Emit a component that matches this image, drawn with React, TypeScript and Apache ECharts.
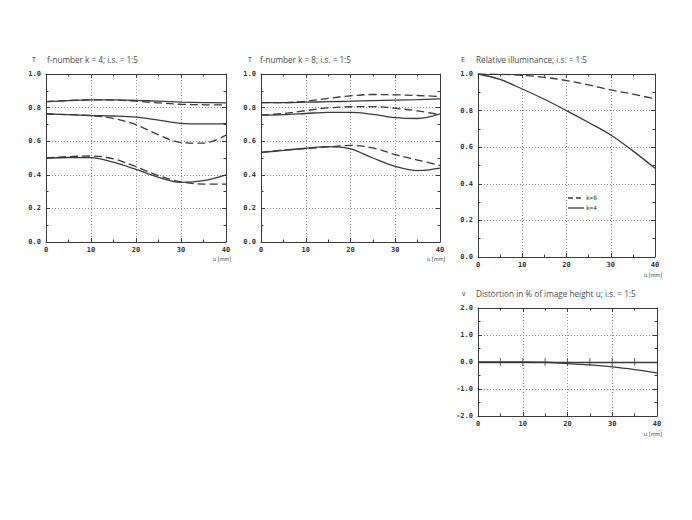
import React, { useEffect, useRef } from "react";
import * as echarts from "echarts";

// Image height u [mm]
const U = [0, 5, 10, 15, 20, 25, 30, 35, 40];

// Panel 1: f-number k = 4 (T)
const k4Solid1 = [0.835, 0.842, 0.846, 0.846, 0.843, 0.838, 0.833, 0.830, 0.828];
const k4Dash1 = [0.835, 0.842, 0.846, 0.845, 0.838, 0.828, 0.820, 0.817, 0.816];
const k4Solid2 = [0.762, 0.758, 0.753, 0.750, 0.743, 0.725, 0.706, 0.703, 0.705];
const k4Dash2 = [0.762, 0.758, 0.752, 0.735, 0.698, 0.638, 0.592, 0.588, 0.636];
const k4Solid3 = [0.500, 0.503, 0.502, 0.475, 0.432, 0.385, 0.355, 0.365, 0.400];
const k4Dash3 = [0.500, 0.508, 0.512, 0.495, 0.448, 0.395, 0.358, 0.345, 0.345];

// Panel 2: f-number k = 8 (T)
const k8Solid1 = [0.830, 0.830, 0.832, 0.835, 0.838, 0.842, 0.845, 0.848, 0.852];
const k8Dash1 = [0.830, 0.830, 0.838, 0.855, 0.870, 0.878, 0.876, 0.872, 0.866];
const k8Solid2 = [0.755, 0.758, 0.765, 0.772, 0.772, 0.760, 0.740, 0.735, 0.762];
const k8Dash2 = [0.755, 0.765, 0.782, 0.798, 0.805, 0.806, 0.796, 0.780, 0.758];
const k8Solid3 = [0.533, 0.545, 0.558, 0.568, 0.555, 0.500, 0.450, 0.425, 0.440];
const k8Dash3 = [0.533, 0.548, 0.556, 0.566, 0.575, 0.560, 0.520, 0.488, 0.455];

// Panel 3: relative illuminance E
const illumK8 = [1.0, 0.998, 0.993, 0.982, 0.964, 0.940, 0.913, 0.890, 0.864];
const illumK4 = [1.0, 0.970, 0.918, 0.862, 0.800, 0.735, 0.667, 0.580, 0.485];

// Panel 4: distortion v in %
const distortion = [0.0, 0.0, 0.0, -0.01, -0.06, -0.11, -0.18, -0.28, -0.40];
const zeroLineTicks = [5, 10, 15, 20, 25, 30, 35];

const titles = [
  { sym: "T", text: "f-number k = 4; i.s. = 1:5" },
  { sym: "T", text: "f-number k = 8; i.s. = 1:5" },
  { sym: "E", text: "Relative illuminance; i.s. = 1:5" },
  { sym: "v", text: "Distortion in % of image height u; i.s. = 1:5" },
];
const legendLabels = ["k=8", "k=4"];

const INK = "#3a3a3a";
const LABEL_FONT = "DejaVu Sans Mono";
const DASH = [8, 4];

const pts = (vals: number[]) => vals.map((v, i) => [U[i], v]);

export default function App() {
  const ref = useRef<HTMLDivElement>(null);

  useEffect(() => {
    if (!ref.current) return;
    const chart = echarts.init(ref.current, undefined, { renderer: "svg" });

    const grids = [
      { left: 46, top: 74, width: 180, height: 168 },
      { left: 261, top: 74, width: 179, height: 168 },
      { left: 478, top: 74, width: 177, height: 183 },
      { left: 478, top: 308, width: 179, height: 108 },
    ];
    const yRanges = [
      { min: 0, max: 1, interval: 0.2 },
      { min: 0, max: 1, interval: 0.2 },
      { min: 0, max: 1, interval: 0.2 },
      { min: -2, max: 2, interval: 1 },
    ];

    const labelStyle = {
      color: "#333",
      fontSize: 7,
      fontFamily: LABEL_FONT,
      fontWeight: "bold",
    };

    const xAxes: any[] = [];
    const yAxes: any[] = [];
    grids.forEach((_, g) => {
      const base = {
        gridIndex: g,
        type: "value",
        axisLine: { show: true, onZero: false, lineStyle: { color: INK, width: 1 } },
        axisTick: { show: true, inside: true, length: 4, lineStyle: { color: INK } },
        minorTick: { show: true, splitNumber: 2, length: 2.5, lineStyle: { color: INK } },
      };
      xAxes.push({
        ...base,
        position: "bottom",
        min: 0,
        max: 40,
        interval: 10,
        axisLabel: { ...labelStyle, margin: 4 },
        splitLine: { show: true, lineStyle: { color: "#888", type: [1, 2], width: 1 } },
      });
      xAxes.push({
        ...base,
        position: "top",
        min: 0,
        max: 40,
        interval: 10,
        axisLabel: { show: false },
        splitLine: { show: false },
      });
      const yr = yRanges[g];
      yAxes.push({
        ...base,
        position: "left",
        ...yr,
        axisLabel: {
          ...labelStyle,
          margin: 5,
          formatter: (v: number) => v.toFixed(1),
        },
        splitLine: { show: true, lineStyle: { color: "#888", type: [1, 2], width: 1 } },
      });
      yAxes.push({
        ...base,
        position: "right",
        ...yr,
        axisLabel: { show: false },
        splitLine: { show: false },
      });
    });

    const line = (g: number, vals: number[], dashed: boolean, name?: string) => ({
      type: "line",
      name,
      xAxisIndex: g * 2,
      yAxisIndex: g * 2,
      data: pts(vals),
      smooth: 0.35,
      symbol: "none",
      z: 5,
      lineStyle: { color: INK, width: 1.3, type: dashed ? DASH : "solid" },
      itemStyle: { color: INK },
    });

    const series: any[] = [
      line(0, k4Solid1, false),
      line(0, k4Dash1, true),
      line(0, k4Solid2, false),
      line(0, k4Dash2, true),
      line(0, k4Solid3, false),
      line(0, k4Dash3, true),
      line(1, k8Solid1, false),
      line(1, k8Dash1, true),
      line(1, k8Solid2, false),
      line(1, k8Dash2, true),
      line(1, k8Solid3, false),
      line(1, k8Dash3, true),
      line(2, illumK8, true, legendLabels[0]),
      line(2, illumK4, false, legendLabels[1]),
      {
        ...line(3, distortion, false),
        markLine: {
          silent: true,
          symbol: "none",
          label: { show: false },
          lineStyle: { color: INK, width: 1.3, type: "solid" },
          data: [{ yAxis: 0 }],
        },
      },
      {
        type: "scatter",
        xAxisIndex: 6,
        yAxisIndex: 6,
        data: zeroLineTicks.map((u) => [u, 0]),
        symbol: "rect",
        symbolSize: [1, 8],
        itemStyle: { color: INK },
        z: 6,
      },
    ];

    const titlePos = [
      { sx: 32, tx: 47, y: 56 },
      { sx: 248, tx: 260, y: 56 },
      { sx: 461, tx: 476, y: 56 },
      { sx: 462, tx: 476, y: 290 },
    ];
    const graphic: any[] = [];
    titles.forEach((t, i) => {
      const p = titlePos[i];
      graphic.push({
        type: "text",
        left: p.sx,
        top: p.y,
        style: { text: t.sym, fontSize: 7, fontFamily: "Open Sans", fill: "#333" },
      });
      graphic.push({
        type: "text",
        left: p.tx,
        top: p.y - 1,
        style: { text: t.text, fontSize: 8.2, fontFamily: "Open Sans", fill: "#4a4a4a" },
      });
    });
    const unitPos = [
      { x: 213, y: 256 },
      { x: 427, y: 256 },
      { x: 644, y: 272 },
      { x: 644, y: 431 },
    ];
    unitPos.forEach((p) =>
      graphic.push({
        type: "text",
        left: p.x,
        top: p.y,
        style: { text: "u [mm]", fontSize: 5.5, fontFamily: "DejaVu Sans Condensed", fill: "#333" },
      })
    );
    // legend of the illuminance panel
    [
      { y: 198, dashed: true },
      { y: 208, dashed: false },
    ].forEach((l, i) => {
      graphic.push({
        type: "line",
        shape: { x1: 568, y1: l.y, x2: 584, y2: l.y },
        style: { stroke: INK, lineWidth: 1.3, lineDash: l.dashed ? [5, 3] : null },
      });
      graphic.push({
        type: "text",
        left: 586,
        top: l.y - 3.5,
        style: { text: legendLabels[i], fontSize: 6, fontFamily: LABEL_FONT, fill: "#333" },
      });
    });

    chart.setOption({
      animation: false,
      backgroundColor: "#ffffff",
      grid: grids.map((g) => ({ ...g, containLabel: false })),
      xAxis: xAxes,
      yAxis: yAxes,
      series,
      graphic,
    });

    return () => chart.dispose();
  }, []);

  return (
    <div
      ref={ref}
      style={{ position: "fixed", left: 0, top: 0, width: 692, height: 520 }}
    />
  );
}
